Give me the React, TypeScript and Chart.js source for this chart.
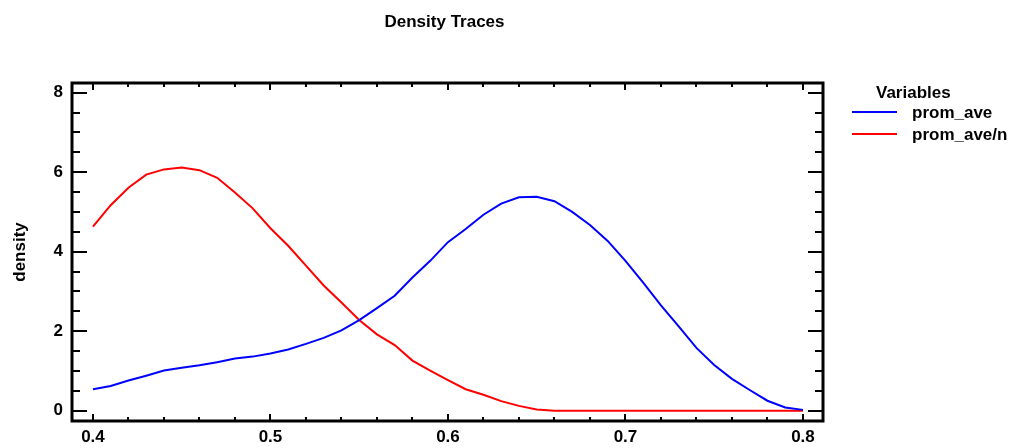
import React, { useEffect, useRef } from "react";
import { Chart, registerables } from "chart.js";

Chart.register(...registerables);

const titleText = "Density Traces";
const yAxisTitle = "density";
const legendTitle = "Variables";
const seriesNames = ["prom_ave", "prom_ave/n"];
const seriesColors = ["#0000ff", "#ff0000"];

const xValues = [
  0.40, 0.41, 0.42, 0.43, 0.44, 0.45, 0.46, 0.47, 0.48, 0.49,
  0.50, 0.51, 0.52, 0.53, 0.54, 0.55, 0.56, 0.57, 0.58, 0.59,
  0.60, 0.61, 0.62, 0.63, 0.64, 0.65, 0.66, 0.67, 0.68, 0.69,
  0.70, 0.71, 0.72, 0.73, 0.74, 0.75, 0.76, 0.77, 0.78, 0.79, 0.80,
];

const promAve = [
  0.54, 0.62, 0.76, 0.88, 1.01, 1.08, 1.14, 1.22, 1.31, 1.36,
  1.44, 1.54, 1.68, 1.83, 2.02, 2.28, 2.58, 2.89, 3.35, 3.77,
  4.24, 4.57, 4.93, 5.21, 5.37, 5.38, 5.27, 5.00, 4.67, 4.27,
  3.77, 3.22, 2.65, 2.12, 1.58, 1.15, 0.80, 0.52, 0.25, 0.08, 0.02,
];

const promAveN = [
  4.63, 5.17, 5.61, 5.94, 6.07, 6.12, 6.05, 5.86, 5.49, 5.09,
  4.59, 4.15, 3.65, 3.15, 2.72, 2.28, 1.92, 1.65, 1.26, 1.01,
  0.77, 0.54, 0.40, 0.24, 0.12, 0.03, 0.0, 0.0, 0.0, 0.0,
  0.0, 0.0, 0.0, 0.0, 0.0, 0.0, 0.0, 0.0, 0.0, 0.0, 0.0,
];

const xTicks = [0.4, 0.5, 0.6, 0.7, 0.8];
const yTicks = [0, 2, 4, 6, 8];
const xMinorStep = 0.02;
const yMinorStep = 0.5;

const FONT = "'Liberation Sans', Arial, Helvetica, sans-serif";
const FS = 17;

const framePlugin = {
  id: "frameAndDecor",
  afterDatasetsDraw(chart: any) {
    const { ctx, chartArea } = chart;
    const { left, right, top, bottom } = chartArea;
    const xs = chart.scales.x;
    const ys = chart.scales.y;
    ctx.save();
    ctx.strokeStyle = "#000";
    ctx.lineWidth = 2;
    ctx.beginPath();
    for (let v = yTicks[0]; v <= yTicks[yTicks.length - 1] + 1e-9; v += yMinorStep) {
      const major = yTicks.some((t) => Math.abs(t - v) < 1e-9);
      const py = Math.round(ys.getPixelForValue(v));
      const len = major ? 15 : 8;
      ctx.moveTo(left, py);
      ctx.lineTo(left + len, py);
      ctx.moveTo(right, py);
      ctx.lineTo(right - len, py);
    }
    for (let v = xTicks[0]; v <= xTicks[xTicks.length - 1] + 1e-9; v += xMinorStep) {
      const major = xTicks.some((t) => Math.abs(t - v) < 1e-9);
      const px = Math.round(xs.getPixelForValue(v));
      const len = major ? 7 : 4;
      ctx.moveTo(px, bottom);
      ctx.lineTo(px, bottom - len);
      ctx.moveTo(px, top);
      ctx.lineTo(px, top + len);
    }
    ctx.stroke();
    ctx.lineWidth = 3;
    ctx.strokeRect(left, top, right - left, bottom - top);

    ctx.fillStyle = "#000";
    ctx.font = `bold ${FS}px ${FONT}`;
    ctx.textAlign = "center";
    ctx.textBaseline = "middle";
    ctx.fillText(titleText, (left + right) / 2 - 3, 22);

    ctx.textAlign = "left";
    ctx.fillText(legendTitle, 876, 93);
    const rowY = [113, 135];
    seriesNames.forEach((name, i) => {
      ctx.strokeStyle = seriesColors[i];
      ctx.lineWidth = 2;
      ctx.beginPath();
      ctx.moveTo(852, rowY[i] - 1);
      ctx.lineTo(897, rowY[i] - 1);
      ctx.stroke();
      ctx.fillStyle = "#000";
      ctx.fillText(name, 912, rowY[i]);
    });
    ctx.restore();
  },
};

export default function App() {
  const canvasRef = useRef<HTMLCanvasElement | null>(null);

  useEffect(() => {
    if (!canvasRef.current) return;
    const chart = new Chart(canvasRef.current, {
      type: "line",
      data: {
        datasets: [
          {
            label: seriesNames[0],
            data: xValues.map((x, i) => ({ x, y: promAve[i] })),
            borderColor: seriesColors[0],
            borderWidth: 2,
            pointRadius: 0,
            tension: 0,
            fill: false,
          },
          {
            label: seriesNames[1],
            data: xValues.map((x, i) => ({ x, y: promAveN[i] })),
            borderColor: seriesColors[1],
            borderWidth: 2,
            pointRadius: 0,
            tension: 0,
            fill: false,
          },
        ],
      },
      options: {
        animation: false,
        responsive: false,
        devicePixelRatio: 1,
        layout: { padding: { left: 0, right: 193, top: 83, bottom: 0 } },
        plugins: {
          legend: { display: false },
          title: { display: false },
          tooltip: { enabled: false },
        },
        scales: {
          x: {
            type: "linear",
            min: 0.3882,
            max: 0.8113,
            grid: { display: false, drawTicks: false },
            border: { display: false },
            afterBuildTicks: (scale: any) => {
              scale.ticks = xTicks.map((v) => ({ value: v }));
            },
            afterFit: (scale: any) => {
              scale.height = 27;
            },
            ticks: {
              padding: 6,
              color: "#000",
              maxRotation: 0,
              autoSkip: false,
              font: { family: FONT, size: FS, weight: "bold" },
              callback: (v: any) => Number(v).toFixed(1),
            },
          },
          y: {
            type: "linear",
            min: -0.26,
            max: 8.244,
            grid: { display: false, drawTicks: false },
            border: { display: false },
            afterBuildTicks: (scale: any) => {
              scale.ticks = yTicks.map((v) => ({ value: v }));
            },
            afterFit: (scale: any) => {
              scale.width = 72;
            },
            ticks: {
              padding: 9,
              color: "#000",
              autoSkip: false,
              font: { family: FONT, size: FS, weight: "bold" },
              callback: (v: any) => String(v),
            },
            title: {
              display: true,
              text: yAxisTitle,
              color: "#000",
              padding: { top: 10, bottom: 0 },
              font: { family: FONT, size: FS, weight: "bold" },
            },
          },
        },
      },
      plugins: [framePlugin],
    } as any);
    return () => chart.destroy();
  }, []);

  return (
    <div style={{ position: "fixed", left: 0, top: 0, width: 1016, height: 448, background: "#fff" }}>
      <canvas ref={canvasRef} width={1016} height={448} style={{ display: "block" }} />
    </div>
  );
}
